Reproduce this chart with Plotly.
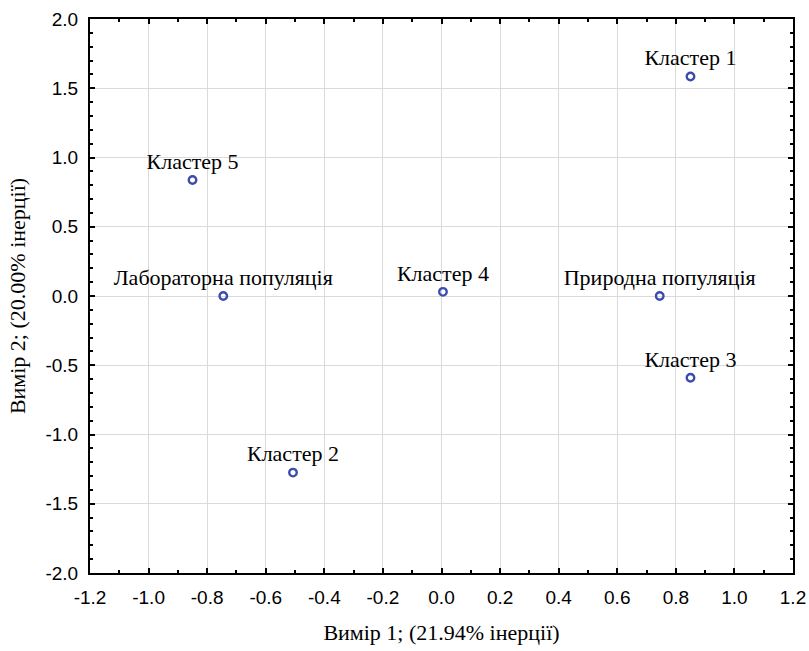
import plotly.graph_objects as go

labels = ["Кластер 1", "Кластер 5", "Лабораторна популяція", "Кластер 4",
          "Природна популяція", "Кластер 3", "Кластер 2"]
dim1 = [0.85, -0.85, -0.745, 0.005, 0.745, 0.85, -0.507]
dim2 = [1.585, 0.838, 0.0, 0.03, 0.0, -0.59, -1.275]

x_ticks = [-1.2, -1.0, -0.8, -0.6, -0.4, -0.2, 0.0, 0.2, 0.4, 0.6, 0.8, 1.0, 1.2]
y_ticks = [-2.0, -1.5, -1.0, -0.5, 0.0, 0.5, 1.0, 1.5, 2.0]

fig = go.Figure()
fig.add_trace(go.Scatter(
    x=dim1, y=dim2, mode="markers+text", text=labels,
    textposition="top center",
    textfont=dict(family="Liberation Serif", size=22, color="black"),
    marker=dict(symbol="circle-open", size=7.5, color="#3b4cad",
                line=dict(width=2.4, color="#3b4cad")),
    cliponaxis=False, showlegend=False,
))

axis_common = dict(
    showline=True, linecolor="black", linewidth=2, mirror="ticks",
    ticks="inside", ticklen=5, tickwidth=2, tickcolor="black",
    showgrid=True, gridcolor="#dadada", gridwidth=1,
    zeroline=False, automargin=False,
    tickfont=dict(family="Liberation Sans", size=19, color="black"),
    minor=dict(ticks="inside", ticklen=3, tickwidth=1.5, tickcolor="black", dtick=0.1, showgrid=False),
)

fig.update_xaxes(
    range=[-1.2, 1.2], tickvals=x_ticks, ticktext=[f"{v:.1f}" for v in x_ticks],
    title=dict(text="Вимір 1; (21.94% інерції)", standoff=18,
               font=dict(family="Liberation Serif", size=22, color="black")),
    ticklabelstandoff=6,
    **axis_common,
)
fig.update_yaxes(
    range=[-2.0, 2.0], tickvals=y_ticks, ticktext=[f"{v:.1f}" for v in y_ticks],
    title=dict(text="Вимір 2; (20.00% інерції)", standoff=14,
               font=dict(family="Liberation Serif", size=22, color="black")),
    ticklabelstandoff=6,
    **axis_common,
)

fig.update_layout(
    width=809, height=651,
    margin=dict(l=90, r=16, t=19, b=78),
    plot_bgcolor="white", paper_bgcolor="white",
)

fig.write_html("out.html")
